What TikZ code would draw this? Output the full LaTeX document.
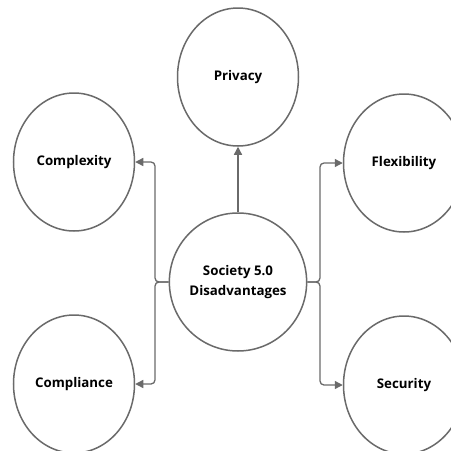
\documentclass[tikz,border=0pt]{standalone}
\usepackage{fontspec}
\setmainfont{Open Sans}
\usetikzlibrary{arrows.meta,shapes.geometric}
\definecolor{lc}{HTML}{6A6A6A}
\begin{document}
\begin{tikzpicture}[x=1pt,y=-1pt,
  bubble/.style={ellipse,draw=lc,line width=1.5pt,minimum width=121pt,minimum height=138pt,inner sep=0pt,align=center,font=\bfseries\fontsize{13.3}{20}\selectfont},
  conn/.style={draw=lc,line width=1.3pt,rounded corners=4pt,-{Triangle[length=8pt,width=8pt]}}]
\useasboundingbox (0,0) rectangle (451,451);
\fill[white] (0,0) rectangle (451,451);
\begin{scope}
\clip (0,0) rectangle (451,451);
\node[bubble] (ctr) at (238,282) {Society 5.0\\Disadvantages};
\node[bubble] (pri) at (238,77) {Privacy};
\node[bubble] (cpx) at (74,162) {Complexity};
\node[bubble] (flx) at (404,163) {Flexibility};
\node[bubble] (cmp) at (74,384) {Compliance};
\node[bubble] (sec) at (404,385) {Security};
\coordinate (lj) at (155,282);
\coordinate (rj) at (320,282);
\draw[conn] (ctr.north) -- (pri.south);
\draw[conn] (ctr.west) -- (lj) |- (cpx.east);
\draw[conn] (ctr.west) -- (lj) |- (cmp.east);
\draw[conn] (ctr.east) -- (rj) |- (flx.west);
\draw[conn] (ctr.east) -- (rj) |- (sec.west);
\end{scope}
\end{tikzpicture}
\end{document}
